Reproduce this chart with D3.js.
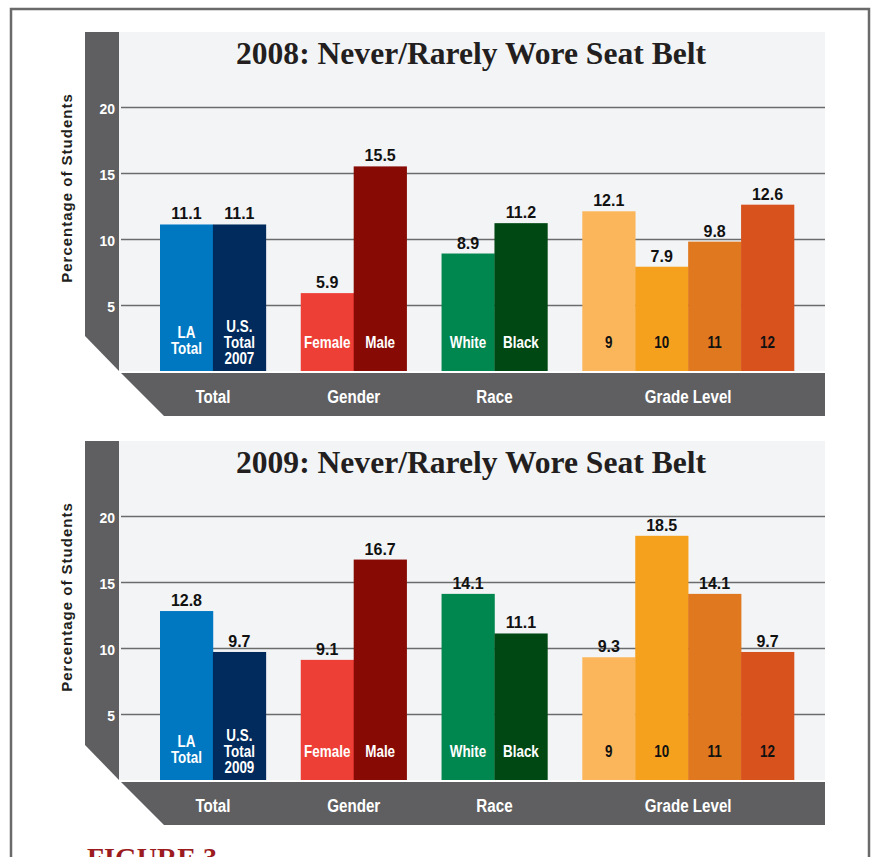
<!DOCTYPE html>
<html>
<head>
<meta charset="utf-8">
<script src="https://cdn.jsdelivr.net/npm/d3@7"></script>
<style>
  html, body { margin: 0; padding: 0; background: #fff; }
  svg { display: block; }
</style>
</head>
<body>
<svg id="chart" width="872" height="857"></svg>
<script>
// ---- data ----
const groups = ["Total", "Gender", "Race", "Grade Level"];
const groupSizes = [2, 2, 2, 4];
const barKeys = ["LA", "US", "Female", "Male", "White", "Black", "9", "10", "11", "12"];
const barColors = ["#0078c1", "#002b5c", "#ee3f36", "#880a04", "#00864f", "#004813",
                   "#fbb65b", "#f6a11e", "#df781e", "#d8521e"];
const barTextColors = ["#fff", "#fff", "#fff", "#fff", "#fff", "#fff", "#111", "#111", "#111", "#111"];
const years = ["2008", "2009"];
const usYears = ["2007", "2009"];
const values2008 = [11.1, 11.1, 5.9, 15.5, 8.9, 11.2, 12.1, 7.9, 9.8, 12.6];
const values2009 = [12.8, 9.7, 9.1, 16.7, 14.1, 11.1, 9.3, 18.5, 14.1, 9.7];
const yTicks = [5, 10, 15, 20];
const yTitle = "Percentage of Students";
const chartTitle = ": Never/Rarely Wore Seat Belt";

const panels = [
  { year: years[0], us: usYears[0], values: values2008 },
  { year: years[1], us: usYears[1], values: values2009 }
];

function barLabel(key, usYear) {
  if (key === "LA") return ["LA", "Total"];
  if (key === "US") return ["U.S.", "Total", usYear];
  return [key];
}

// ---- layout ----
const svg = d3.select("#chart");
const sans = "'Liberation Sans', Arial, Helvetica, sans-serif";
const serif = "'Liberation Serif', 'Times New Roman', serif";
const darkGray = "#5f5f62";

// condensed bold label centred on cx with baseline y
function condText(parent, cx, y, str, size, color, squeeze) {
  return parent.append("text")
    .attr("transform", `translate(${cx},${y}) scale(${squeeze},1)`)
    .attr("text-anchor", "middle")
    .attr("font-family", sans).attr("font-weight", "bold")
    .attr("font-size", size).attr("fill", color)
    .text(str);
}

// outer frame
svg.append("rect")
  .attr("x", 11).attr("y", 9).attr("width", 858).attr("height", 900)
  .attr("fill", "none").attr("stroke", "#6a6a6a").attr("stroke-width", 2.5);

// bar slot positions: bars are 1 unit wide, gaps between groups are 0.66 units
const gapUnits = 0.66;
const slots = [];
let u = 0;
groupSizes.forEach((n, gi) => {
  if (gi > 0) u += gapUnits;
  for (let i = 0; i < n; i++) { slots.push({ start: u, group: gi }); u += 1; }
});
const totalUnits = u;

const plotLeft = 119, plotRight = 825;
const x = d3.scaleLinear().domain([0, totalUnits]).range([160, 794]);

panels.forEach((p, pi) => {
  const off = pi * 409;
  const top = 32 + off, base = 371 + off;
  const g = svg.append("g");

  const y = d3.scaleLinear().domain([0, 20]).range([base, 107 + off]);

  // plot background
  g.append("rect")
    .attr("x", plotLeft).attr("y", top)
    .attr("width", plotRight - plotLeft).attr("height", base - top)
    .attr("fill", "#f3f4f6");

  // left value strip with chamfered foot
  g.append("path")
    .attr("d", `M85,${top} L119,${top} L119,${base} L85,${base - 35} Z`)
    .attr("fill", darkGray);

  // category band
  const bTop = base + 2, bBot = base + 45;
  g.append("path")
    .attr("d", `M121,${bTop} L${plotRight},${bTop} L${plotRight},${bBot} L${121 + (bBot - bTop)},${bBot} Z`)
    .attr("fill", darkGray);

  // title
  g.append("text")
    .attr("x", 471).attr("y", 64 + off)
    .attr("text-anchor", "middle")
    .attr("font-family", serif).attr("font-weight", "bold")
    .attr("font-size", 31).attr("fill", "#231f20")
    .attr("textLength", 470).attr("lengthAdjust", "spacingAndGlyphs")
    .text(p.year + chartTitle);

  // gridlines
  const ax = g.append("g").attr("transform", `translate(${plotRight},0)`)
    .call(d3.axisRight(y).tickValues(yTicks).tickSize(-(plotRight - plotLeft - 2)).tickFormat(""));
  ax.select(".domain").remove();
  ax.selectAll(".tick line").attr("stroke", "#6b6b6b").attr("stroke-width", 1.3);

  // tick labels inside the dark strip
  const lab = g.append("g").attr("transform", `translate(115,0)`).call(
    d3.axisLeft(y).tickValues(yTicks).tickSize(0).tickPadding(0));
  lab.select(".domain").remove();
  lab.selectAll(".tick text")
    .attr("fill", "#fff").attr("font-family", sans).attr("font-weight", "bold")
    .attr("font-size", 15.5).attr("dy", "0.42em")
    .attr("transform", "scale(0.9,1)");

  // y title
  g.append("text")
    .attr("transform", `translate(72,${188 + off}) rotate(-90)`)
    .attr("text-anchor", "middle")
    .attr("font-family", sans).attr("font-weight", "bold")
    .attr("font-size", 15).attr("letter-spacing", 1.0).attr("fill", "#231f20")
    .text(yTitle);

  // bars
  const w = x(1) - x(0);
  const bars = g.selectAll(".bar").data(p.values).enter();
  bars.append("rect")
    .attr("x", (d, i) => x(slots[i].start))
    .attr("y", d => y(d))
    .attr("width", w + 0.3)
    .attr("height", d => base - y(d))
    .attr("fill", (d, i) => barColors[i]);

  // value labels
  bars.append("text")
    .attr("x", (d, i) => x(slots[i].start) + w / 2)
    .attr("y", d => y(d) - 5)
    .attr("text-anchor", "middle")
    .attr("font-family", sans).attr("font-weight", "bold")
    .attr("font-size", 16).attr("fill", "#111")
    .text(d => d.toFixed(1));

  // in-bar labels
  barKeys.forEach((k, i) => {
    const lines = barLabel(k, p.us);
    const n = lines.length;
    const first = base - 23 - (n - 1) * 8 - (n === 2 ? 2 : 0);
    lines.forEach((ln, li) => {
      condText(g, x(slots[i].start) + w / 2, first + li * 16, ln, 16, barTextColors[i], 0.84);
    });
  });

  // group labels in the band
  groups.forEach((gr, gi) => {
    const idx = slots.map((s, i) => i).filter(i => slots[i].group === gi);
    const x0 = x(slots[idx[0]].start), x1 = x(slots[idx[idx.length - 1]].start + 1);
    condText(g, (x0 + x1) / 2, base + 32, gr, 18.5, "#fff", 0.82);
  });
});

// figure caption (runs off the bottom edge)
svg.append("text")
  .attr("x", 87).attr("y", 867)
  .attr("font-family", serif).attr("font-weight", "bold")
  .attr("font-size", 28).attr("fill", "#9b1b1e")
  .text("FIGURE 3");
</script>
</body>
</html>
